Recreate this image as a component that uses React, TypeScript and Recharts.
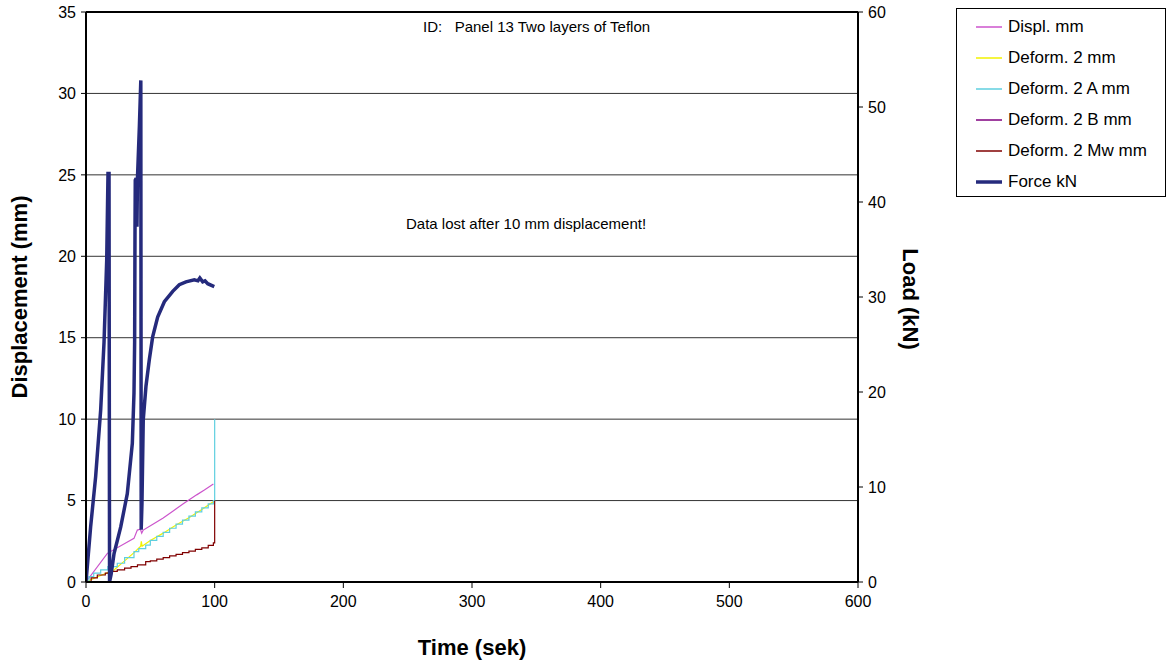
import React from 'react'
import {
  CartesianGrid,
  Line,
  LineChart,
  ReferenceLine,
  XAxis,
  YAxis,
} from 'recharts'

const FONT = '"Liberation Sans", Arial, Helvetica, sans-serif'

// time axis (sek)
const timeTicks = [0, 100, 200, 300, 400, 500, 600]
const mmTicks = [0, 5, 10, 15, 20, 25, 30, 35]
const knTicks = [0, 10, 20, 30, 40, 50, 60]

// Displ. mm
const displTime = [0, 16.6, 37.3, 39.9, 42.3, 43.3, 44.5, 52, 60, 68, 75.6, 86, 92, 99]
const displMm = [0, 1.76, 2.68, 3.19, 3.24, 3.0, 3.19, 3.55, 3.93, 4.38, 4.8, 5.35, 5.65, 6.02]

// Deform. 2 mm
const deformTime = [0, 10, 21.8, 30, 38, 42.5, 43, 43.6, 50, 60, 70, 80, 90, 99, 100]
const deformMm = [0, 0.35, 0.74, 1.3, 1.85, 2.2, 2.5, 2.2, 2.55, 3.0, 3.5, 3.95, 4.45, 4.93, 4.93]

// Deform. 2 A mm (stepped)
const deformATime = [0, 2.3, 6, 11.4, 17, 24.3, 30, 37.3, 41, 46.4, 50, 55, 60, 65, 70, 75, 80, 85, 90, 95, 99, 100]
const deformAMm = [0, 0.33, 0.55, 0.74, 0.95, 1.15, 1.5, 1.86, 2.05, 2.27, 2.55, 2.8, 3.05, 3.3, 3.55, 3.8, 4.05, 4.3, 4.55, 4.8, 5.0, 10.0]

// Deform. 2 B mm
const deformBTime = [0, 100]
const deformBMm = [0, 0]

// Deform. 2 Mw mm (stepped)
const deformMwTime = [0, 4, 8.8, 15, 20, 24.3, 30, 35, 40, 46.4, 50, 55, 60, 65, 70, 75, 80, 85, 90, 95, 99, 100]
const deformMwMm = [0, 0.25, 0.43, 0.55, 0.65, 0.74, 0.85, 0.95, 1.05, 1.25, 1.3, 1.4, 1.5, 1.6, 1.7, 1.8, 1.9, 2.0, 2.1, 2.25, 2.4, 5.0]

// Force kN (right axis)
const forceTime = [
  0, 3.6, 7.5, 11.4, 14, 16.1, 17.1, 17.9, 18.3, 19.5, 21.8, 27, 32.1, 36, 37.3, 37.8, 38.1, 38.3, 39, 39.6,
  40, 41.5, 42.6, 42.9, 43.5, 44.5, 46.6, 49.2, 51.8, 55.7, 60.9, 67.4, 72.5, 77.7, 84.2, 87, 88.5, 90.7,
  92.5, 94.6, 99.7,
]
const forceKn = [
  0, 5.8, 11.1, 18.1, 25.2, 33.9, 43, 43, 0, 0.8, 3.0, 5.8, 9.3, 14.6, 19.9, 25.2, 37.4, 42.3, 42.5, 37.4,
  42.5, 48, 52.8, 5.5, 8.3, 17.1, 20.6, 23.4, 25.8, 27.9, 29.5, 30.6, 31.3, 31.6, 31.8, 31.7, 32.0, 31.6,
  31.7, 31.4, 31.1,
]

const toPoints = (ts: number[], vs: number[]) => ts.map((t, i) => ({ t, v: vs[i] }))

const series = [
  { name: 'Displ. mm', color: '#cc55cc', width: 1.2, type: 'linear', axis: 'mm', data: toPoints(displTime, displMm) },
  { name: 'Deform. 2 mm', color: '#f2f200', width: 1.2, type: 'linear', axis: 'mm', data: toPoints(deformTime, deformMm) },
  { name: 'Deform. 2 A mm', color: '#5fcfdf', width: 1.2, type: 'stepAfter', axis: 'mm', data: toPoints(deformATime, deformAMm) },
  { name: 'Deform. 2 B mm', color: '#800080', width: 1.5, type: 'linear', axis: 'mm', data: toPoints(deformBTime, deformBMm) },
  { name: 'Deform. 2 Mw mm', color: '#800000', width: 1.2, type: 'stepAfter', axis: 'mm', data: toPoints(deformMwTime, deformMwMm) },
  { name: 'Force kN', color: '#252a7c', width: 3.5, type: 'linear', axis: 'kn', data: toPoints(forceTime, forceKn) },
] as const

const tickStyle = { fontSize: 16, fill: '#000', fontFamily: FONT }
const axisLine = { stroke: '#000', strokeWidth: 2 }

const Legendbox = () => (
  <div
    style={{
      position: 'absolute',
      left: 956,
      top: 8,
      width: 208,
      height: 187,
      border: '1px solid #000',
      background: '#fff',
      fontFamily: FONT,
      fontSize: 17,
    }}
  >
    {series.map((s, i) => (
      <div
        key={s.name}
        style={{ position: 'absolute', left: 19, top: 2 + i * 31, height: 31, display: 'flex', alignItems: 'center' }}
      >
        <svg width={26} height={6} style={{ marginRight: 6 }}>
          <line x1={0} y1={3} x2={26} y2={3} stroke={s.color} strokeWidth={s.name === 'Force kN' ? 3.5 : 1.5} />
        </svg>
        <span>{s.name}</span>
      </div>
    ))}
  </div>
)

export default function App() {
  return (
    <div style={{ position: 'absolute', left: 0, top: 0, width: 1167, height: 663, background: '#fff', fontFamily: FONT }}>
      <LineChart width={1167} height={663} margin={{ top: 12, left: 26, right: 249, bottom: 41 }}>
        <CartesianGrid vertical={false} yAxisId="mm" stroke="#333" strokeWidth={1} />
        <XAxis
          dataKey="t"
          type="number"
          domain={[0, 600]}
          ticks={timeTicks}
          height={40}
          tick={tickStyle}
          tickSize={6}
          tickMargin={8}
          axisLine={axisLine}
          tickLine={{ stroke: '#000' }}
          allowDataOverflow
        />
        <YAxis
          yAxisId="mm"
          type="number"
          domain={[0, 35]}
          ticks={mmTicks}
          width={60}
          tick={tickStyle}
          tickSize={5}
          tickMargin={5}
          axisLine={axisLine}
          tickLine={{ stroke: '#000' }}
        />
        <YAxis
          yAxisId="kn"
          orientation="right"
          type="number"
          domain={[0, 60]}
          ticks={knTicks}
          width={60}
          tick={tickStyle}
          tickSize={5}
          tickMargin={5}
          axisLine={axisLine}
          tickLine={{ stroke: '#000' }}
        />
        <ReferenceLine yAxisId="mm" y={35} stroke="#000" strokeWidth={2} />
        {series.map((s) => (
          <Line
            key={s.name}
            data={s.data as any}
            dataKey="v"
            name={s.name}
            yAxisId={s.axis}
            type={s.type as any}
            stroke={s.color}
            strokeWidth={s.width}
            dot={false}
            activeDot={false}
            isAnimationActive={false}
          />
        ))}
      </LineChart>

      <div style={{ position: 'absolute', left: 423, top: 18, fontSize: 15, whiteSpace: 'pre' }}>
        {'ID:   Panel 13 Two layers of Teflon'}
      </div>
      <div style={{ position: 'absolute', left: 406, top: 215, fontSize: 15, whiteSpace: 'pre' }}>
        Data lost after 10 mm displacement!
      </div>

      <div
        style={{
          position: 'absolute',
          left: 20,
          top: 297,
          transform: 'translate(-50%, -50%) rotate(-90deg)',
          fontSize: 22,
          fontWeight: 'bold',
          whiteSpace: 'nowrap',
        }}
      >
        Displacement (mm)
      </div>
      <div
        style={{
          position: 'absolute',
          left: 910,
          top: 299,
          transform: 'translate(-50%, -50%) rotate(90deg)',
          fontSize: 22,
          fontWeight: 'bold',
          whiteSpace: 'nowrap',
        }}
      >
        Load (kN)
      </div>
      <div
        style={{
          position: 'absolute',
          left: 472,
          top: 648,
          transform: 'translate(-50%, -50%)',
          fontSize: 22,
          fontWeight: 'bold',
          whiteSpace: 'nowrap',
        }}
      >
        Time (sek)
      </div>

      <Legendbox />
    </div>
  )
}
